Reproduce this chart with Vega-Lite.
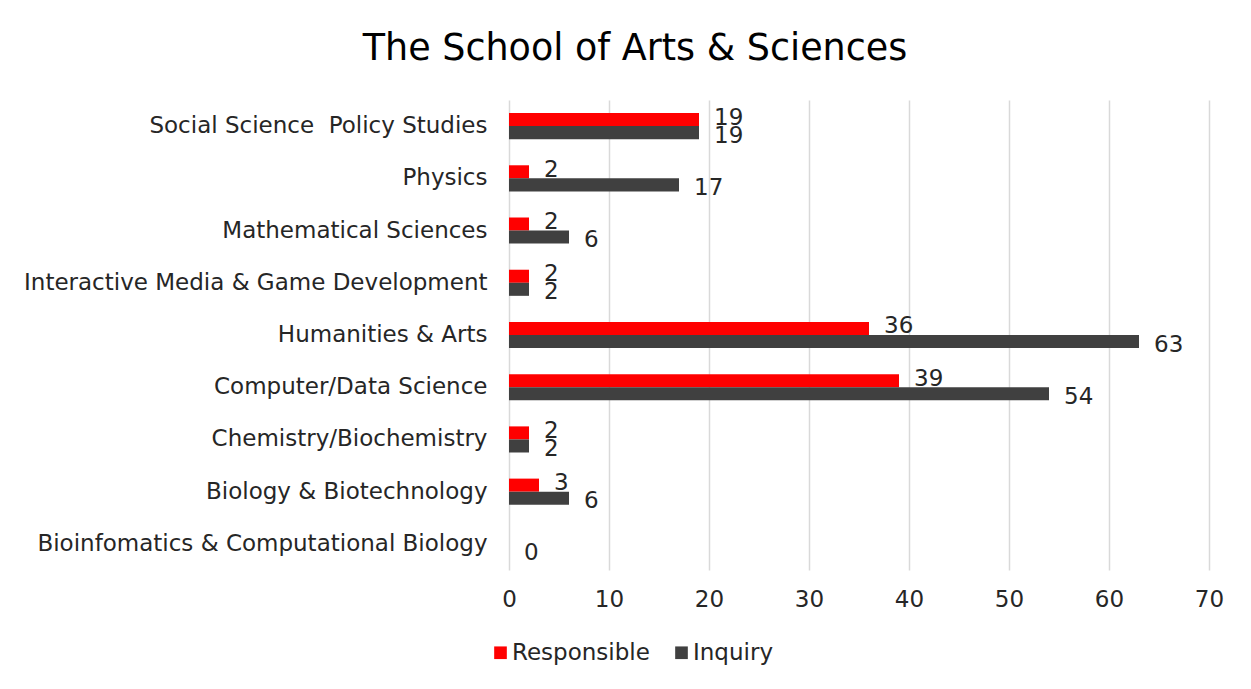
{
  "$schema": "https://vega.github.io/schema/vega-lite/v6.json",
  "width": 700,
  "height": 470,
  "autosize": {"type": "none"},
  "padding": {"left": 509, "top": 100, "right": 41, "bottom": 119},
  "background": "white",
  "config": {"view": {"stroke": null}},
  "title": {"text": "The School of Arts & Sciences", "anchor": "middle", "dx": -224, "offset": 33, "fontSize": 36.5, "font": "DejaVu Sans", "fontWeight": "normal", "color": "#000000"},
  "data": {"values": [
    {"program": "Social Science \u00a0Policy Studies", "series": "Responsible", "count": 19},
    {"program": "Social Science \u00a0Policy Studies", "series": "Inquiry", "count": 19},
    {"program": "Physics", "series": "Responsible", "count": 2},
    {"program": "Physics", "series": "Inquiry", "count": 17},
    {"program": "Mathematical Sciences", "series": "Responsible", "count": 2},
    {"program": "Mathematical Sciences", "series": "Inquiry", "count": 6},
    {"program": "Interactive Media & Game Development", "series": "Responsible", "count": 2},
    {"program": "Interactive Media & Game Development", "series": "Inquiry", "count": 2},
    {"program": "Humanities & Arts", "series": "Responsible", "count": 36},
    {"program": "Humanities & Arts", "series": "Inquiry", "count": 63},
    {"program": "Computer/Data Science", "series": "Responsible", "count": 39},
    {"program": "Computer/Data Science", "series": "Inquiry", "count": 54},
    {"program": "Chemistry/Biochemistry", "series": "Responsible", "count": 2},
    {"program": "Chemistry/Biochemistry", "series": "Inquiry", "count": 2},
    {"program": "Biology & Biotechnology", "series": "Responsible", "count": 3},
    {"program": "Biology & Biotechnology", "series": "Inquiry", "count": 6},
    {"program": "Bioinfomatics & Computational Biology", "series": "Inquiry", "count": 0}
  ]},
  "encoding": {
    "y": {"field": "program", "type": "nominal", "sort": null,
      "scale": {"paddingInner": 0.5, "paddingOuter": 0.25},
      "axis": {"title": null, "domain": false, "ticks": false, "labelPadding": 22, "labelFontSize": 23, "labelFont": "DejaVu Sans", "labelColor": "#262626", "labelLimit": 600}},
    "yOffset": {"field": "series", "type": "nominal", "sort": ["Responsible", "Inquiry"], "scale": {"paddingInner": 0, "paddingOuter": 0}},
    "x": {"field": "count", "type": "quantitative", "scale": {"domain": [0, 70], "nice": false},
      "axis": {"title": null, "values": [0, 10, 20, 30, 40, 50, 60, 70], "domain": false, "ticks": false, "grid": true, "gridColor": "#d9d9d9", "gridWidth": 1.5, "labelFlush": false, "labelPadding": 18, "labelFontSize": 23, "labelFont": "DejaVu Sans", "labelColor": "#262626"}}
  },
  "layer": [
    {"mark": {"type": "bar"},
     "encoding": {
       "color": {"field": "series", "type": "nominal", "sort": ["Responsible", "Inquiry"],
         "scale": {"domain": ["Responsible", "Inquiry"], "range": ["#ff0000", "#404040"]},
         "legend": {"title": null, "orient": "none", "legendX": -20, "legendY": 541, "direction": "horizontal", "symbolType": "square", "symbolSize": 160, "symbolStrokeWidth": 0, "labelFontSize": 23, "labelFont": "DejaVu Sans", "labelColor": "#262626", "columnPadding": 20, "labelOffset": 0}}
     }},
    {"transform": [{"filter": "datum.series === 'Responsible'"}],
     "mark": {"type": "text", "align": "left", "dx": 15, "dy": -2, "fontSize": 23, "font": "DejaVu Sans", "color": "#262626"},
     "encoding": {"text": {"field": "count", "type": "quantitative"}}},
    {"transform": [{"filter": "datum.series === 'Inquiry'"}],
     "mark": {"type": "text", "align": "left", "dx": 15, "dy": 3, "fontSize": 23, "font": "DejaVu Sans", "color": "#262626"},
     "encoding": {"text": {"field": "count", "type": "quantitative"}}}
  ]
}
